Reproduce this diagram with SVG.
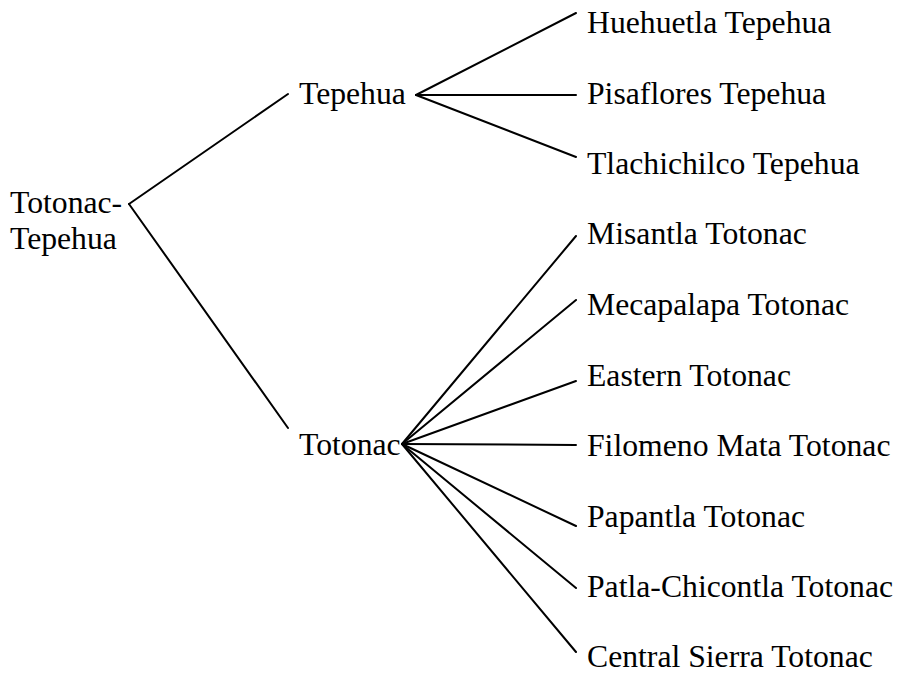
<svg xmlns="http://www.w3.org/2000/svg" width="901" height="674" viewBox="0 0 901 674">
  <style>
    .lbl { font-family: "Liberation Serif", "Times New Roman", serif; font-size: 31.7px; fill: #000; }
    .edge { stroke: #000; stroke-width: 2; fill: none; stroke-linecap: round; }
  </style>
  <rect width="901" height="674" fill="#fff"/>

  <!-- tree branches -->
  <g id="connectors">
    <line class="edge" x1="129" y1="204" x2="288" y2="94"/>
    <line class="edge" x1="129" y1="204" x2="288" y2="428"/>

    <line class="edge" x1="416" y1="95" x2="576" y2="13"/>
    <line class="edge" x1="416" y1="95" x2="576" y2="95"/>
    <line class="edge" x1="416" y1="95" x2="576" y2="157"/>

    <line class="edge" x1="402" y1="444" x2="576" y2="236"/>
    <line class="edge" x1="402" y1="444" x2="576" y2="300"/>
    <line class="edge" x1="402" y1="444" x2="576" y2="381"/>
    <line class="edge" x1="402" y1="444" x2="576" y2="445"/>
    <line class="edge" x1="402" y1="444" x2="576" y2="526"/>
    <line class="edge" x1="402" y1="444" x2="576" y2="588"/>
    <line class="edge" x1="402" y1="444" x2="576" y2="652"/>
  </g>

  <!-- root -->
  <g id="totonac-tepehua">
    <text class="lbl" x="10" y="213">Totonac-</text>
    <text class="lbl" x="10" y="249">Tepehua</text>
  </g>

  <!-- subgroups -->
  <g id="tepehua"><text class="lbl" x="299" y="104">Tepehua</text></g>
  <g id="totonac"><text class="lbl" x="299" y="455">Totonac</text></g>

  <!-- Tepehua languages -->
  <g id="huehuetla-tepehua"><text class="lbl" x="587" y="33">Huehuetla Tepehua</text></g>
  <g id="pisaflores-tepehua"><text class="lbl" x="587" y="104">Pisaflores Tepehua</text></g>
  <g id="tlachichilco-tepehua"><text class="lbl" x="587" y="174">Tlachichilco Tepehua</text></g>

  <!-- Totonac languages -->
  <g id="misantla-totonac"><text class="lbl" x="587" y="244">Misantla Totonac</text></g>
  <g id="mecapalapa-totonac"><text class="lbl" x="587" y="315">Mecapalapa Totonac</text></g>
  <g id="eastern-totonac"><text class="lbl" x="587" y="386">Eastern Totonac</text></g>
  <g id="filomeno-mata-totonac"><text class="lbl" x="587" y="456">Filomeno Mata Totonac</text></g>
  <g id="papantla-totonac"><text class="lbl" x="587" y="527">Papantla Totonac</text></g>
  <g id="patla-chicontla-totonac"><text class="lbl" x="587" y="597">Patla-Chicontla Totonac</text></g>
  <g id="central-sierra-totonac"><text class="lbl" x="587" y="667">Central Sierra Totonac</text></g>
</svg>
